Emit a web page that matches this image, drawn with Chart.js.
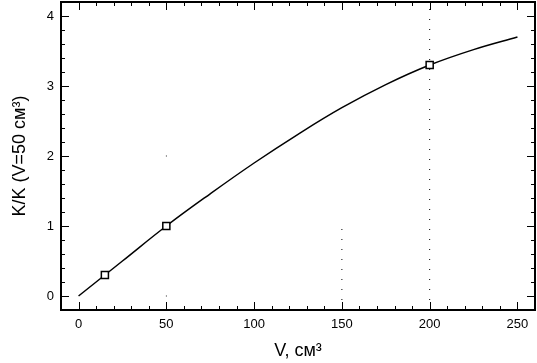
<!DOCTYPE html>
<html>
<head>
<meta charset="utf-8">
<script src="https://cdn.jsdelivr.net/npm/chart.js@4"></script>
<style>
  html, body { margin: 0; padding: 0; background: #fff; }
  #wrap { width: 537px; height: 363px; }
</style>
</head>
<body>
<div id="wrap"><canvas id="grafica"></canvas></div>
<script>
// datos
var vCurva = [0, 25, 50, 75, 100, 125, 150, 175, 200, 225, 250];
var kCurva = [0, 0.5, 1.0, 1.46, 1.9, 2.31, 2.69, 3.02, 3.3, 3.52, 3.7];

var vPuntos = [15, 50, 200];
var kPuntos = [0.3, 1.0, 3.3];

var ticksX = [0, 50, 100, 150, 200, 250];
var ticksY = [0, 1, 2, 3, 4];

// lineas punteadas verticales
var lineaV200 = { v: [200, 200], k: [-0.2, 4.2] };
var lineaV150 = { v: [150, 150], k: [-0.2, 1.05] };
var puntosV50 = { v: [50, 50], k: [0, 2] };

function pares(xs, ys) {
  return xs.map(function (x, i) { return { x: x, y: ys[i] }; });
}

// marco con marcas hacia adentro en los cuatro lados
const marcoPlugin = {
  id: 'marco',
  afterDraw: function (chart) {
    const ctx = chart.ctx;
    const a = chart.chartArea;
    const sx = chart.scales.x, sy = chart.scales.y;
    ctx.save();
    ctx.strokeStyle = '#000';
    ctx.lineWidth = 1;
    // menores
    for (let v = -10; v <= 260; v += 10) {
      const p = Math.round(sx.getPixelForValue(v)) + 0.5;
      if (p <= a.left + 1 || p >= a.right - 1) continue;
      const len = (v % 50 === 0) ? 8 : 4;
      ctx.beginPath();
      ctx.moveTo(p, a.bottom); ctx.lineTo(p, a.bottom - len);
      ctx.moveTo(p, a.top); ctx.lineTo(p, a.top + len);
      ctx.stroke();
    }
    for (let i = -1; i <= 21; i++) {
      const v = i * 0.2;
      const p = Math.round(sy.getPixelForValue(v)) + 0.5;
      if (p <= a.top + 1 || p >= a.bottom - 1) continue;
      const len = (i % 5 === 0) ? 8 : 4;
      ctx.beginPath();
      ctx.moveTo(a.left, p); ctx.lineTo(a.left + len, p);
      ctx.moveTo(a.right, p); ctx.lineTo(a.right - len, p);
      ctx.stroke();
    }
    ctx.lineWidth = 2;
    ctx.strokeRect(a.left, a.top, a.right - a.left, a.bottom - a.top);
    ctx.restore();
  }
};

const fuente = { family: "'Liberation Sans', Arial, sans-serif", size: 13 };
const fuenteTitulo = { family: "'Liberation Sans', Arial, sans-serif", size: 18 };

new Chart(document.getElementById('grafica'), {
  type: 'scatter',
  data: {
    datasets: [
      {
        label: 'puntos',
        data: pares(vPuntos, kPuntos),
        pointStyle: 'rect',
        pointRadius: 5,
        pointBackgroundColor: '#fff',
        pointBorderColor: '#000',
        pointBorderWidth: 1.5,
        showLine: false,
        order: 0
      },
      {
        label: 'curva',
        data: pares(vCurva, kCurva),
        showLine: true,
        borderColor: '#000',
        borderWidth: 1.5,
        tension: 0.4,
        pointRadius: 0,
        order: 1
      },
      {
        label: 'v200',
        data: pares(lineaV200.v, lineaV200.k),
        showLine: true,
        borderColor: '#000',
        borderWidth: 1,
        borderDash: [1, 9],
        pointRadius: 0,
        order: 2
      },
      {
        label: 'v150',
        data: pares(lineaV150.v, lineaV150.k),
        showLine: true,
        borderColor: '#000',
        borderWidth: 1,
        borderDash: [1, 9],
        pointRadius: 0,
        order: 2
      },
      {
        label: 'v50',
        data: pares(puntosV50.v, puntosV50.k),
        showLine: false,
        pointStyle: 'rect',
        pointRadius: 0.6,
        pointBackgroundColor: '#000',
        pointBorderWidth: 0,
        order: 2
      }
    ]
  },
  options: {
    responsive: true,
    maintainAspectRatio: false,
    animation: false,
    devicePixelRatio: 1,
    layout: { autoPadding: false, padding: { top: 2, right: 2, left: 0, bottom: 0 } },
    plugins: {
      legend: { display: false },
      tooltip: { enabled: false }
    },
    scales: {
      x: {
        type: 'linear',
        min: -10,
        max: 260,
        afterBuildTicks: function (s) { s.ticks = ticksX.map(function (v) { return { value: v }; }); },
        afterFit: function (s) { s.height = 53; s.paddingLeft = 0; s.paddingRight = 0; },
        grid: { display: false, drawTicks: false },
        border: { display: false },
        ticks: { color: '#000', font: fuente, padding: 7, maxRotation: 0 },
        title: {
          display: true,
          text: 'V, см³',
          color: '#000',
          font: fuenteTitulo,
          padding: { top: 2, bottom: 1 }
        }
      },
      y: {
        type: 'linear',
        min: -0.2,
        max: 4.2,
        afterBuildTicks: function (s) { s.ticks = ticksY.map(function (v) { return { value: v }; }); },
        afterFit: function (s) { s.width = 61; s.paddingTop = 0; s.paddingBottom = 0; },
        grid: { display: false, drawTicks: false },
        border: { display: false },
        ticks: { color: '#000', font: fuente, padding: 7 },
        title: {
          display: true,
          text: 'K/K (V=50 см³)',
          color: '#000',
          font: fuenteTitulo,
          padding: { top: 9, bottom: 0 }
        }
      }
    }
  },
  plugins: [marcoPlugin]
});
</script>
</body>
</html>
